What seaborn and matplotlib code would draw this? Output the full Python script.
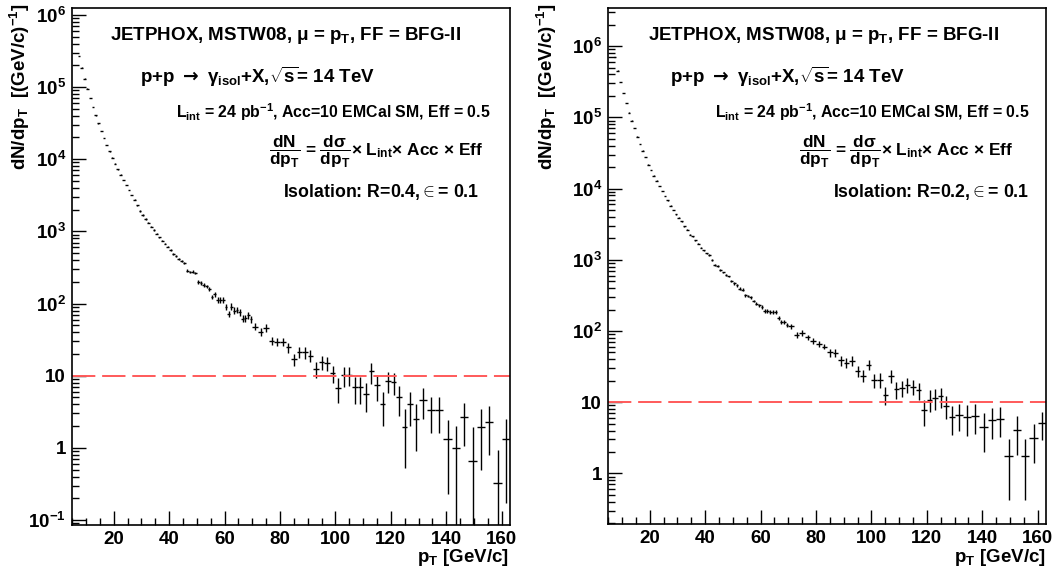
import numpy as np
import matplotlib
matplotlib.use("Agg")
import matplotlib.pyplot as plt
import seaborn as sns
from matplotlib.ticker import FixedLocator, MultipleLocator, FuncFormatter, NullFormatter

# ---------------- data ----------------
bin_edges = [7, 8, 9, 10, 11, 12, 13, 14, 15, 16, 17, 18, 19, 20, 21, 22, 23, 24, 25, 26,
             27, 28, 29, 30, 31, 32, 33, 34, 35, 36, 37, 38, 39, 40, 41, 42, 43, 44, 45, 46,
             47, 48, 49, 50, 51, 52, 53, 54, 55, 56, 57, 58, 59, 60, 61, 62, 63, 64, 65, 66,
             67, 68, 69, 70, 72, 74, 76, 78, 80, 82, 84, 86, 88, 90, 92, 94, 96, 98, 100, 102,
             104, 106, 108, 110, 112, 114, 116, 118, 120, 122, 124, 126, 128, 130, 133, 136,
             139, 142, 145, 148, 151, 154, 157, 160, 163]

yield_r04 = [2.68e5, 1.85e5, 1.30e5, 9.45e4, 7.02e4, 5.27e4, 4.04e4, 3.13e4, 2.45e4, 1.96e4,
             1.57e4, 1.28e4, 1.05e4, 8.7e3, 7.25e3, 6.1e3, 5.15e3, 4.4e3, 3.75e3, 3.2e3, 2.75e3, 2.3e3,
             1910, 1680, 1480, 1320, 1160, 1040, 926, 826, 741, 673, 612,
             556, 490, 451, 417, 383, 361,
             286, 273, 277, 264,
             201, 194, 180, 173, 158, 124,
             135, 112, 113, 112, 90, 72,
             91, 80, 82, 76, 62, 63, 69, 61,
             48, 40.5, 46.5, 30.5, 29.6, 29.7, 24.7,
             17, 21.3, 21, 19, 12.4, 15.3, 15, 10.8, 6.8, 10.2, 10.2, 6.9, 6.9, 5.5, 11.5, 7.4,
             4.0, 8.5, 8.1, 5.0, 1.97, 4.0, 2.5,
             4.6, 3.35, 3.35, 1.33, 1.0, 2.65, 0.66, 1.97, 2.3, 0.33, 1.33]
err_r04 = [2700, 1900, 1300, 950, 700, 530, 400, 310, 250, 200, 160, 130, 105, 87, 73, 61, 52, 44,
           38, 32, 28, 23,
           38, 34, 30, 27, 24, 22, 19, 17, 15, 14, 13,
           17, 15, 14, 13, 12, 11,
           11.5, 11, 11, 10.5,
           12, 11.6, 11, 10.5, 10, 8,
           11.5, 9.5, 9.6, 9.5, 7.7, 6.5,
           9.5, 8.5, 8.6, 8, 6.5, 6.6, 7.2, 6.4,
           5.6, 5.3, 5.5, 4.2, 3.8, 4.1, 4.0,
           3.2, 3.9, 3.9, 3.5, 3.0, 3.2, 3.2, 2.8, 2.65, 3.2, 3.0, 2.8, 2.8, 2.35, 3.7, 2.9,
           2.0, 2.8, 2.7, 2.2, 1.45, 2.0, 1.6,
           2.1, 1.75, 1.75, 1.1, 0.99, 1.6, 1.3, 1.47, 1.5, 0.6, 1.16]

yield_r02 = [6.97e5, 4.52e5, 3.14e5, 2.20e5, 1.58e5, 1.16e5, 9.0e4, 7.1e4, 5.36e4, 4.24e4,
             3.41e4, 2.75e4, 2.17e4, 1.83e4, 1.52e4, 1.29e4, 1.09e4, 9300, 7900, 6800, 5750, 4950,
             4350, 3900, 3450, 2950, 2620, 2250, 2120, 1890, 1670, 1480, 1360,
             1230, 1160, 1000, 842, 815, 712, 665, 610, 585, 499,
             468, 437, 392, 380, 315, 309, 298, 263, 240, 230,
             217, 190, 190, 185, 184, 185, 152, 134, 132, 122,
             116, 88.5, 94, 81.5, 72, 65.5, 60.5,
             50, 49, 38.8, 35.6, 37.8, 27.5, 23.6, 33.6, 20.3, 20.7, 12.8, 23.6, 15.3, 15.8,
             17.7, 16.4, 14.7, 7.7, 10.9, 11.5, 12.1, 8.95, 6.2,
             6.7, 6.2, 6.5, 4.5, 5.6, 5.9, 1.74, 4.1, 1.74, 3.15, 5.1]
err_r02 = [4900, 3200, 2200, 1500, 1100, 800, 630, 500, 380, 300, 240, 190, 150, 130, 105, 90,
           76, 65, 55, 47, 40, 35,
           65, 58, 52, 44, 39, 34, 32, 28, 25, 22, 20,
           31, 29, 25, 21, 20, 18, 17, 15, 15, 12.5,
           21, 20, 18, 17, 14, 14, 13.5, 12, 11, 10,
           14, 12.5, 12.5, 12, 12, 12, 10, 9, 8.6, 8,
           10.5, 8, 8.5, 7.3, 6.5, 5.9, 5.5,
           6.5, 6.4, 6.2, 5.7, 6.0, 5.0, 4.7, 5.7, 4.7, 4.8, 3.6, 5.0, 4.1, 3.8, 4.2, 3.9,
           4.0, 3.1, 3.7, 3.7, 3.7, 3.2, 2.7,
           2.8, 2.8, 2.9, 2.5, 2.6, 2.7, 1.32, 2.3, 1.32, 1.75, 2.2]

threshold = 10

iso_text = {
    "left": "Isolation: R=0.4,$\\in$= 0.1",
    "right": "Isolation: R=0.2,$\\in$= 0.1",
}

# ---------------- style ----------------
sns.set_theme(style="ticks")
plt.rcParams["font.family"] = ["Liberation Sans", "DejaVu Sans"]
plt.rcParams["font.weight"] = "bold"
plt.rcParams["mathtext.fontset"] = "custom"
plt.rcParams["mathtext.rm"] = "Liberation Sans:bold"
plt.rcParams["mathtext.it"] = "Liberation Sans:bold"
plt.rcParams["mathtext.bf"] = "Liberation Sans:bold"
plt.rcParams["mathtext.sf"] = "DejaVu Sans"
plt.rcParams["axes.linewidth"] = 1.2
for k in ("text.color", "axes.labelcolor", "xtick.color", "ytick.color", "axes.edgecolor"):
    plt.rcParams[k] = "black"

edges = np.array(bin_edges, dtype=float)
centers = 0.5 * (edges[:-1] + edges[1:])
half_w = 0.5 * (edges[1:] - edges[:-1])

W, H = 1061, 577
fig = plt.figure(figsize=(W / 100, H / 100), dpi=100)


def fx(px):
    return px / W


def fy(py):
    return 1 - py / H


def sci(v, pos):
    e = int(round(np.log10(v)))
    if e == 0:
        return "1"
    if e == 1:
        return "10"
    if e < 0:
        return "10$^{\\rm {-}%d}$" % (-e)
    return "10$^{\\rm %d}$" % e


def draw_panel(rect, y, yerr, ylim, txt_x, txt_iso, ylab_x, xlab_right):
    ax = fig.add_axes(rect)
    ax.set_yscale("log", nonpositive="clip")
    ax.errorbar(centers, y, xerr=half_w, yerr=yerr, fmt="none", ecolor="black",
                elinewidth=1.0, capsize=0)
    ax.axhline(threshold, color="#ff5a5a", lw=1.4, dashes=(12, 3.5))
    ax.set_xlim(4.8, 163)
    ax.set_ylim(*ylim)
    lo, hi = np.log10(ylim[0]), np.log10(ylim[1])
    decades = [10.0 ** e for e in range(int(np.floor(lo)), int(np.ceil(hi)) + 1)]
    majors = [d for d in decades if ylim[0] <= d <= ylim[1]]
    minors = [d * m for d in decades for m in range(2, 10) if ylim[0] <= d * m <= ylim[1]]
    ax.xaxis.set_major_locator(MultipleLocator(20))
    ax.xaxis.set_minor_locator(MultipleLocator(5))
    ax.yaxis.set_major_locator(FixedLocator(majors))
    ax.yaxis.set_minor_locator(FixedLocator(minors))
    ax.yaxis.set_major_formatter(FuncFormatter(sci))
    ax.yaxis.set_minor_formatter(NullFormatter())
    ax.tick_params(axis="both", which="major", direction="in", length=10, width=1.0,
                   labelsize=13.5, color="black", labelcolor="black")
    ax.tick_params(axis="both", which="minor", direction="in", length=5, width=1.0,
                   color="black")
    ax.tick_params(axis="x", which="major", pad=5)
    ax.tick_params(axis="y", which="major", pad=4)
    for lab in ax.get_xticklabels() + ax.get_yticklabels():
        lab.set_fontweight("bold")

    x1, x2, x3, x4, x5 = txt_x
    fig.text(fx(x1), fy(40), "JETPHOX, MSTW08, $\\mu$ = p$_{\\rm T}$, FF = BFG-II",
             fontsize=13.5, fontweight="bold", ha="left", va="baseline")
    fig.text(fx(x2), fy(83),
             "p+p $\\mathsf{\\rightarrow}\\ \\gamma_{\\rm isol}$+X,$\\sqrt{\\rm s}$= 14 TeV",
             fontsize=13.5, fontweight="bold", ha="left", va="baseline")
    fig.text(fx(x3), fy(118), "L$_{\\rm int}$ = 24 pb$^{\\rm {-}1}$, Acc=10 EMCal SM, Eff = 0.5",
             fontsize=11.4, fontweight="bold", ha="left", va="baseline")
    fig.text(fx(x4), fy(152),
             "$\\dfrac{\\rm dN}{{\\rm dp}_{\\rm T}}$ = $\\dfrac{{\\rm d}\\sigma}{{\\rm dp}_{\\rm T}}$"
             "\u00d7 L$_{\\rm int}$\u00d7 Acc \u00d7 Eff",
             fontsize=12.4, fontweight="bold", ha="left", va="center")
    fig.text(fx(x5), fy(197), txt_iso, fontsize=12.8, fontweight="bold", ha="left",
             va="baseline")

    fig.text(fx(ylab_x), fy(3), "dN/dp$_{\\rm T}$  [(GeV/c)$^{\\rm {-}1}$]", rotation=90,
             fontsize=13.5, fontweight="bold", ha="center", va="top")
    fig.text(fx(xlab_right), fy(562), "p$_{\\rm T}$ [GeV/c]", fontsize=13.5,
             fontweight="bold", ha="right", va="baseline")
    return ax


draw_panel([fx(71.6), fy(524.5), fx(510) - fx(71.6), fy(8.3) - fy(524.5)],
           yield_r04, err_r04, (0.087, 1.23e6), (110, 140, 176, 269, 283),
           iso_text["left"], 20, 509)
draw_panel([fx(607.6), fy(523.5), fx(1046) - fx(607.6), fy(8.3) - fy(523.5)],
           yield_r02, err_r02, (0.198, 3.39e6), (648, 670, 715, 799, 833),
           iso_text["right"], 547, 1046)

fig.savefig("out.png", dpi=100)
